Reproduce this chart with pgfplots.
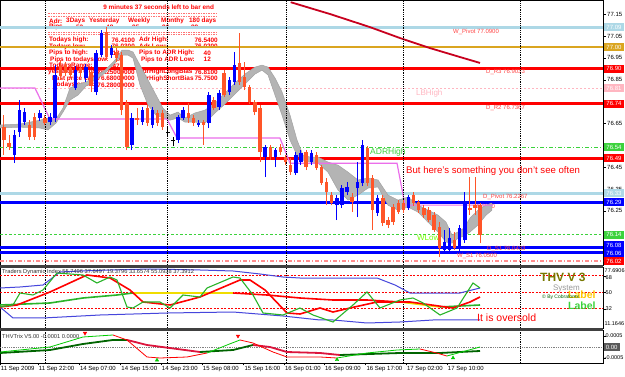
\documentclass[border=0pt]{standalone}
\usepackage{fontspec}
\setmainfont{Liberation Sans}
\usepackage{pgfplots}
\usepackage{pgfplotstable}
\pgfplotsset{compat=1.18}

\definecolor{bull}{RGB}{0,0,255}
\definecolor{bear}{RGB}{255,85,40}
\definecolor{lblue}{RGB}{173,216,230}
\definecolor{gold}{RGB}{218,165,32}
\definecolor{lpink}{RGB}{255,182,193}
\definecolor{lgreen}{RGB}{60,210,60}
\definecolor{violetl}{RGB}{235,110,235}
\definecolor{bandc}{RGB}{180,180,180}
\definecolor{dred}{RGB}{200,0,30}
\definecolor{olivet}{RGB}{120,120,0}
\definecolor{tdiblue}{RGB}{70,70,220}
\definecolor{tdigreen}{RGB}{40,180,40}
\definecolor{tdiyellow}{RGB}{240,220,0}
\definecolor{infored}{RGB}{255,0,0}
\definecolor{lvlred}{RGB}{255,70,70}
\definecolor{trixgreen}{RGB}{0,100,0}
\definecolor{trixred}{RGB}{220,20,60}
\definecolor{labgold}{RGB}{255,200,0}

% candles: k = bar index, l/h = low/high, bl/bh = body low/high
\pgfplotstableread{
k l h bl bh
2 76.468 76.620 76.505 76.597
3 76.588 76.757 76.610 76.711
4 76.643 76.721 76.656 76.702
7 76.661 76.711 76.675 76.698
9 76.643 76.698 76.656 76.679
10 76.656 76.917 76.675 76.872
14 76.803 76.913 76.812 76.894
16 76.839 76.922 76.858 76.908
18 76.780 76.986 76.794 76.972
19 76.954 77.078 76.963 77.064
21 76.949 77.009 76.963 76.995
25 76.528 76.698 76.551 76.675
27 76.643 76.725 76.656 76.711
29 76.629 76.725 76.643 76.711
34 76.560 76.688 76.574 76.679
35 76.665 76.725 76.675 76.711
38 76.633 76.665 76.643 76.652
40 76.629 76.794 76.652 76.780
42 76.711 76.803 76.725 76.789
44 76.780 76.862 76.794 76.849
45 76.826 76.977 76.839 76.917
51 76.404 76.551 76.496 76.542
53 76.450 76.537 76.496 76.528
57 76.414 76.519 76.423 76.505
58 76.459 76.528 76.473 76.514
60 76.459 76.528 76.473 76.514
65 76.207 76.322 76.276 76.308
66 76.262 76.368 76.276 76.354
67 76.322 76.381 76.336 76.359
69 76.221 76.473 76.354 76.381
70 76.363 76.574 76.377 76.551
73 76.226 76.322 76.240 76.308
79 76.253 76.322 76.262 76.313
86 76.061 76.162 76.070 76.107
87 76.056 76.171 76.070 76.125
89 76.061 76.185 76.079 76.171
90 76.102 76.336 76.116 76.290
}\bulltab

\pgfplotstableread{
k l h bl bh
0 76.505 76.688 76.574 76.633
1 76.528 76.597 76.542 76.560
5 76.574 76.665 76.588 76.643
6 76.574 76.698 76.588 76.679
8 76.643 76.688 76.652 76.675
11 76.849 76.940 76.867 76.913
12 76.867 76.931 76.881 76.917
13 76.858 76.922 76.872 76.904
15 76.862 76.917 76.881 76.904
17 76.794 76.894 76.821 76.885
20 76.940 77.091 76.954 77.068
22 76.931 76.995 76.949 76.977
23 76.688 76.977 76.711 76.963
24 76.528 76.757 76.542 76.743
26 76.643 76.721 76.665 76.675
28 76.638 76.734 76.652 76.721
30 76.638 76.711 76.652 76.698
31 76.620 76.711 76.633 76.698
36 76.652 76.743 76.675 76.698
37 76.638 76.688 76.652 76.675
39 76.551 76.665 76.643 76.656
41 76.711 76.771 76.721 76.757
43 76.771 76.894 76.780 76.881
46 76.826 77.064 76.839 76.927
47 76.803 76.931 76.817 76.862
48 76.739 76.826 76.748 76.817
49 76.688 76.757 76.702 76.748
50 76.473 76.734 76.519 76.721
52 76.482 76.551 76.496 76.542
54 76.505 76.556 76.519 76.542
55 76.459 76.505 76.473 76.496
56 76.414 76.491 76.427 76.459
59 76.436 76.528 76.450 76.519
61 76.436 76.519 76.446 76.505
62 76.368 76.459 76.377 76.450
63 76.276 76.400 76.336 76.381
64 76.276 76.336 76.285 76.322
68 76.244 76.331 76.290 76.313
71 76.363 76.546 76.377 76.537
72 76.162 76.414 76.253 76.400
74 76.180 76.322 76.194 76.308
75 76.171 76.221 76.185 76.207
76 76.185 76.281 76.198 76.267
77 76.235 76.299 76.244 76.285
78 76.240 76.299 76.253 76.285
80 76.272 76.336 76.285 76.322
81 76.240 76.299 76.253 76.290
82 76.217 76.276 76.230 76.262
83 76.198 76.267 76.207 76.253
84 76.153 76.244 76.162 76.230
85 76.038 76.198 76.079 76.175
88 76.070 76.153 76.079 76.116
91 76.230 76.404 76.253 76.262
92 76.230 76.404 76.262 76.276
93 76.102 76.285 76.139 76.276
}\beartab

\pgfplotstableread{
k l h bl bh
32 76.588 76.629 76.606 76.610
33 76.546 76.588 76.572 76.576
}\dojitab

\pgfplotsset{
  mt/.style={scale only axis, width=603pt, xmin=-0.78, xmax=116.99,
    axis line style={black, line width=0.5pt}, xtick=\empty, tick align=outside,
    ytick pos=right, major tick length=2.5pt, tick style={black, line width=0.5pt},
    scaled y ticks=false, scaled x ticks=false,
    /pgf/number format/assume math mode=true},
}
\tikzset{
  info/.style={font=\fontsize{6.4}{7}\selectfont\bfseries, text=infored, inner sep=0pt},
  lvl/.style={font=\fontsize{6}{7}\selectfont, text=lvlred, inner sep=0pt, anchor=west},
  lab/.style={anchor=west, inner sep=0pt, minimum width=20.5pt, minimum height=8pt,
    text=white, font=\fontsize{6}{7}\selectfont},
  plab/.style={anchor=west, inner sep=0pt, font=\fontsize{5.5}{6}\selectfont},
}

\begin{document}
\begin{tikzpicture}
\fill[white] (0pt,0pt) rectangle (625pt,-377pt);

% ================= MAIN PRICE PANEL =================
\begin{axis}[mt, at={(0pt,0pt)}, anchor=north west, height=265pt,
  ymin=76.0018, ymax=77.2152,
  ytick={76.25,76.35,76.45,76.65,76.85,76.95,77.05,77.15},
  yticklabel pos=right,
  yticklabel style={font=\fontsize{6}{7}\selectfont, inner sep=0pt, xshift=1.5pt,
    /pgf/number format/.cd, fixed, fixed zerofill, precision=2},
]
% --- info block (behind the candles)
\node[info, anchor=west] at (rel axis cs:0.1710,0.9717) {9 minutes 37 seconds left to bar end};
\draw[infored!55, line width=0.7pt, dash pattern=on 1.5pt off 1pt] (rel axis cs:0.0796,0.9491) -- (rel axis cs:0.3615,0.9491);
\draw[infored!55, line width=0.7pt, dash pattern=on 1.5pt off 1pt] (rel axis cs:0.0796,0.9396) -- (rel axis cs:0.3615,0.9396);
\node[info, anchor=west] at (rel axis cs:0.0813,0.9208) {Adr:};
\node[info, anchor=west] at (rel axis cs:0.1095,0.9208) {3Days};
\node[info, anchor=west] at (rel axis cs:0.1476,0.9208) {Yesterday};
\node[info, anchor=west] at (rel axis cs:0.2123,0.9208) {Weekly};
\node[info, anchor=west] at (rel axis cs:0.2670,0.9208) {Monthy};
\node[info, anchor=west] at (rel axis cs:0.3134,0.9208) {180 days};
\node[info, anchor=west] at (rel axis cs:0.0813,0.8981) {Pips};
\node[info, anchor=west] at (rel axis cs:0.1260,0.8981) {53};
\node[info, anchor=west] at (rel axis cs:0.1758,0.8981) {48};
\node[info, anchor=west] at (rel axis cs:0.2189,0.8981) {85};
\node[info, anchor=west] at (rel axis cs:0.2687,0.8981) {86};
\node[info, anchor=west] at (rel axis cs:0.3167,0.8981) {88};
\draw[infored!55, line width=0.7pt, dash pattern=on 1.5pt off 1pt] (rel axis cs:0.0796,0.8792) -- (rel axis cs:0.3615,0.8792);
\draw[infored!55, line width=0.7pt, dash pattern=on 1.5pt off 1pt] (rel axis cs:0.0796,0.8698) -- (rel axis cs:0.3615,0.8698);
\node[info, anchor=west] at (rel axis cs:0.0813,0.8491) {Todays high:};
\node[info, anchor=east] at (rel axis cs:0.2239,0.8491) {76.4100};
\node[info, anchor=west] at (rel axis cs:0.2305,0.8491) {Adr High:};
\node[info, anchor=east] at (rel axis cs:0.3615,0.8491) {76.5400};
\node[info, anchor=west] at (rel axis cs:0.0813,0.8245) {Todays low:};
\node[info, anchor=east] at (rel axis cs:0.2239,0.8245) {76.0300};
\node[info, anchor=west] at (rel axis cs:0.2305,0.8245) {Adr Low:};
\node[info, anchor=east] at (rel axis cs:0.3615,0.8245) {76.0200};
\node[info, anchor=west] at (rel axis cs:0.0813,0.8000) {Pips to high:};
\node[info, anchor=east] at (rel axis cs:0.1990,0.8000) {13};
\node[info, anchor=west] at (rel axis cs:0.2305,0.8000) {Pips to ADR High:};
\node[info, anchor=east] at (rel axis cs:0.3500,0.8000) {40};
\node[info, anchor=west] at (rel axis cs:0.0830,0.7755) {Pips to todays low:};
\node[info, anchor=east] at (rel axis cs:0.2040,0.7755) {10};
\node[info, anchor=west] at (rel axis cs:0.2338,0.7755) {Pips to ADR Low:};
\node[info, anchor=east] at (rel axis cs:0.3500,0.7755) {12};
\node[info, anchor=west] at (rel axis cs:0.0813,0.7509) {TodaysRange:};
\node[info, anchor=east] at (rel axis cs:0.1990,0.7509) {47};
\node[info, anchor=west] at (rel axis cs:0.0796,0.7283) {yesterdays close:};
\node[info, anchor=east] at (rel axis cs:0.2239,0.7283) {76.25000000};
\node[info, anchor=west] at (rel axis cs:0.2305,0.7283) {adrHighLongBias};
\node[info, anchor=east] at (rel axis cs:0.3615,0.7283) {76.8100};
\node[info, anchor=west] at (rel axis cs:0.0860,0.7038) {Last price call:};
\node[info, anchor=east] at (rel axis cs:0.2239,0.7038) {76.68000000};
\node[info, anchor=west] at (rel axis cs:0.2305,0.7038) {adrHighShortBias};
\node[info, anchor=east] at (rel axis cs:0.3615,0.7038) {75.7500};
\node[info, anchor=west] at (rel axis cs:0.0880,0.6792) {Todays open:};
\node[info, anchor=east] at (rel axis cs:0.2239,0.6792) {76.28000000};

% --- horizontal levels
\addplot[lblue, line width=3pt, forget plot] coordinates {(-0.78,77.09) (116.99,77.09)};
\addplot[gold, line width=2pt, forget plot] coordinates {(-0.78,77.00) (116.99,77.00)};
\addplot[red, line width=3pt, forget plot] coordinates {(-0.78,76.90) (116.99,76.90)};
\addplot[lpink, line width=0.8pt, dash pattern=on 2pt off 2pt, forget plot] coordinates {(-0.78,76.81) (116.99,76.81)};
\addplot[red, line width=3pt, forget plot] coordinates {(-0.78,76.74) (116.99,76.74)};
\addplot[lgreen, line width=0.8pt, dash pattern=on 4pt off 2pt on 1pt off 2pt, forget plot] coordinates {(-0.78,76.54) (116.99,76.54)};
\addplot[red, line width=3pt, forget plot] coordinates {(-0.78,76.49) (116.99,76.49)};
\addplot[lblue, line width=3pt, forget plot] coordinates {(-0.78,76.33) (116.99,76.33)};
\addplot[bull, line width=3pt, forget plot] coordinates {(-0.78,76.29) (116.99,76.29)};
\addplot[lgreen, line width=0.8pt, dash pattern=on 2.5pt off 2pt, forget plot] coordinates {(-0.78,76.14) (116.99,76.14)};
\addplot[bull, line width=3pt, forget plot] coordinates {(-0.78,76.08) (116.99,76.08)};
\addplot[bull, line width=3pt, forget plot] coordinates {(-0.78,76.06) (116.99,76.06)};
\addplot[red!45, line width=1.8pt, dash pattern=on 4pt off 2pt on 1pt off 2pt, forget plot] coordinates {(-0.78,76.02) (116.99,76.02)};

% --- level labels
\node[lvl] at (rel axis cs:0.7512,0.8804) {W\_Pivot 77.0900};
\node[lvl] at (rel axis cs:0.8060,0.7294) {D\_R3 76.9033};
\node[lvl, text=lpink, font=\fontsize{8}{9}\selectfont] at (rel axis cs:0.6899,0.6479) {LBHigh};
\node[lvl] at (rel axis cs:0.8060,0.5913) {D\_R2 76.7367};
\node[lvl, text=lgreen, font=\fontsize{8.5}{9}\selectfont] at (rel axis cs:0.6136,0.4253) {ADRHigh};
\node[lvl] at (rel axis cs:0.8010,0.2555) {D\_Pivot 76.2267};
\node[lvl, text=green!55!yellow, font=\fontsize{8}{9}\selectfont] at (rel axis cs:0.6915,0.1008) {WLow};
\node[lvl] at (rel axis cs:0.8076,0.0604) {D\_S1 76.0433};
\node[lvl] at (rel axis cs:0.7579,0.0358) {W\_S1 76.0500};
\node[lvl] at (rel axis cs:0.7844,0.2226) {76.2800};

% --- grey cloud (upper edge left to right, then lower edge right to left)
\addplot[fill=bandc, draw=bandc!90!black, line width=0.5pt, forget plot] coordinates {
(-0.78,76.643) (3.13,76.647) (7.03,76.665) (8.59,76.675) (10.16,76.670) (11.52,76.720) (12.89,76.812) (14.45,76.830) (16.02,76.839) (17.77,76.867) (19.73,76.894) (21.68,76.940) (23.05,76.986) (24.22,76.986) (25.2,76.977) (26.56,76.917) (28.13,76.849) (29.69,76.780) (31.05,76.720) (32.42,76.688) (33.98,76.702) (35.35,76.675) (37.3,76.698) (39.26,76.711) (41.21,76.743) (43.16,76.789) (45.12,76.835) (47.07,76.876) (49.02,76.908) (50.39,76.917) (51.56,76.908) (52.93,76.858) (54.3,76.794) (55.86,76.688) (57.23,76.574) (58.4,76.505) (59.77,76.496) (61.33,76.496) (63.28,76.473) (65.23,76.459) (67.19,76.427) (69.14,76.391) (71.09,76.400) (73.05,76.391) (75,76.322) (76.95,76.299) (78.91,76.313) (80.86,76.276) (82.81,76.253) (84.77,76.230) (86.33,76.198) (87.5,76.139) (88.67,76.153) (89.84,76.171) (91.02,76.217) (92.58,76.253) (94.14,76.276) (95.31,76.285)
(95.31,76.253) (94.14,76.230) (92.58,76.185) (91.02,76.153) (89.84,76.134) (88.67,76.125) (87.5,76.102) (86.33,76.107) (84.77,76.153) (82.81,76.198) (80.86,76.244) (78.91,76.267) (76.95,76.253) (75,76.276) (73.05,76.359) (71.09,76.354) (69.14,76.322) (67.19,76.299) (65.23,76.345) (63.28,76.427) (61.33,76.468) (59.77,76.473) (58.4,76.482) (57.23,76.505) (55.86,76.574) (54.3,76.688) (52.93,76.780) (51.56,76.872) (50.39,76.894) (49.02,76.876) (47.07,76.830) (45.12,76.785) (43.16,76.739) (41.21,76.698) (39.26,76.652) (37.3,76.656) (35.35,76.656) (33.98,76.675) (32.42,76.665) (31.05,76.675) (29.69,76.688) (28.13,76.734) (26.56,76.826) (25.2,76.949) (24.22,76.963) (23.05,76.963) (21.68,76.927) (19.73,76.881) (17.77,76.849) (16.02,76.821) (14.45,76.780) (12.89,76.757) (11.52,76.702) (10.16,76.652) (8.59,76.620) (7.03,76.629) (3.13,76.633) (-0.78,76.629)};

% --- violet step line
\addplot[violetl, line width=1.2pt, forget plot] coordinates {
(-0.78,76.812) (6.05,76.812) (8.98,76.670) (31.84,76.670) (33.8,76.583) (53.9,76.583) (55.86,76.468) (76.76,76.468) (78.32,76.276) (95.5,76.276)};

% --- dark red falling line
\addplot[dred, line width=1.8pt, forget plot] coordinates {
(56.0,77.205) (63.67,77.151) (71.48,77.091) (77.34,77.041) (83.2,76.995) (89.06,76.954) (92.97,76.927)};

% --- day separators
\addplot[black, densely dotted, line width=0.8pt, forget plot] coordinates {(8.0,76.0018) (8.0,77.2152)};
\addplot[black, densely dotted, line width=0.8pt, forget plot] coordinates {(31.84,76.0018) (31.84,77.2152)};
\addplot[black, densely dotted, line width=0.8pt, forget plot] coordinates {(55.08,76.0018) (55.08,77.2152)};
\addplot[black, densely dotted, line width=0.8pt, forget plot] coordinates {(77.93,76.0018) (77.93,77.2152)};
\addplot[black, densely dotted, line width=0.8pt, forget plot] coordinates {(100.8,76.0018) (100.8,77.2152)};

% --- candles: wicks then bodies
\addplot[draw=none, mark=none, forget plot, error bars/.cd, y dir=plus, y explicit, error mark=none,
  error bar style={draw=bull, line width=1pt}] table[x=k, y=l, y error expr=\thisrow{h}-\thisrow{l}] {\bulltab};
\addplot[draw=none, mark=none, forget plot, error bars/.cd, y dir=plus, y explicit, error mark=none,
  error bar style={draw=bull, line width=3.4pt}] table[x=k, y=bl, y error expr=\thisrow{bh}-\thisrow{bl}] {\bulltab};
\addplot[draw=none, mark=none, forget plot, error bars/.cd, y dir=plus, y explicit, error mark=none,
  error bar style={draw=bear, line width=1pt}] table[x=k, y=l, y error expr=\thisrow{h}-\thisrow{l}] {\beartab};
\addplot[draw=none, mark=none, forget plot, error bars/.cd, y dir=plus, y explicit, error mark=none,
  error bar style={draw=bear, line width=3.4pt}] table[x=k, y=bl, y error expr=\thisrow{bh}-\thisrow{bl}] {\beartab};
\addplot[draw=none, mark=none, forget plot, error bars/.cd, y dir=plus, y explicit, error mark=none,
  error bar style={draw=black, line width=0.8pt}] table[x=k, y=l, y error expr=\thisrow{h}-\thisrow{l}] {\dojitab};
\addplot[draw=none, mark=none, forget plot, error bars/.cd, y dir=plus, y explicit, error mark=none,
  error bar style={draw=black, line width=3.4pt}] table[x=k, y=bl, y error expr=\thisrow{bh}-\thisrow{bl}] {\dojitab};

\node[anchor=west, inner sep=0pt, text=infored, font=\fontsize{9.6}{11}\selectfont] at (rel axis cs:0.6733,0.3558) {But here's something you don't see often};

% coordinates for the price boxes
\coordinate (r1) at (axis cs:116.99,77.09);
\coordinate (r2) at (axis cs:116.99,77.00);
\coordinate (r3) at (axis cs:116.99,76.90);
\coordinate (r4) at (axis cs:116.99,76.81);
\coordinate (r5) at (axis cs:116.99,76.74);
\coordinate (r6) at (axis cs:116.99,76.54);
\coordinate (r7) at (axis cs:116.99,76.49);
\coordinate (r8) at (axis cs:116.99,76.33);
\coordinate (r9) at (axis cs:116.99,76.29);
\coordinate (r10) at (axis cs:116.99,76.14);
\coordinate (r11) at (axis cs:116.99,76.08);
\coordinate (r12) at (axis cs:116.99,76.06);
\coordinate (r13) at (axis cs:116.99,76.02);
\end{axis}

% ================= TDI PANEL =================
\begin{axis}[mt, at={(0pt,-267pt)}, anchor=north west, height=61pt,
  ymin=11.1646, ymax=77.6906, ytick={32,50,68}, yticklabels={}]
\addplot[red, line width=0.8pt, dash pattern=on 2pt off 1.5pt, forget plot] coordinates {(-0.78,68) (116.99,68)};
\addplot[red, line width=0.8pt, dash pattern=on 2pt off 1.5pt, forget plot] coordinates {(-0.78,50) (116.99,50)};
\addplot[red, line width=0.8pt, dash pattern=on 2pt off 1.5pt, forget plot] coordinates {(-0.78,32) (116.99,32)};
\addplot[black, densely dotted, line width=0.8pt, forget plot] coordinates {(8.0,11.1646) (8.0,77.6906)};
\addplot[black, densely dotted, line width=0.8pt, forget plot] coordinates {(31.84,11.1646) (31.84,77.6906)};
\addplot[black, densely dotted, line width=0.8pt, forget plot] coordinates {(55.08,11.1646) (55.08,77.6906)};
\addplot[black, densely dotted, line width=0.8pt, forget plot] coordinates {(77.93,11.1646) (77.93,77.6906)};
\addplot[black, densely dotted, line width=0.8pt, forget plot] coordinates {(100.8,11.1646) (100.8,77.6906)};
% volatility bands
\addplot[tdiblue, line width=1pt, forget plot] coordinates {
(-0.78,54.79) (3.13,55.88) (7.62,58.06) (10.94,72.24) (14.84,73.33) (20.7,74.42) (28.52,75.51) (38.28,74.42) (44.73,73.33) (50.0,70.06) (54.49,66.78) (57.81,65.69) (72.85,65.69) (76.37,58.06) (79.3,49.33) (89.06,49.33) (92.97,54.79)};
\addplot[tdiblue, line width=1pt, forget plot] coordinates {
(-0.78,34.07) (1.76,22.07) (7.62,22.07) (18.75,25.34) (31.84,27.52) (44.73,28.61) (54.49,24.25) (61.72,19.89) (64.26,19.89) (70.9,16.62) (77.34,17.71) (83.79,19.89) (92.97,19.89)};
% market base line (coloured by state)
\addplot[tdigreen, line width=1.6pt, forget plot] coordinates {(-0.78,36.25) (8.98,38.43) (15.43,43.88) (22.07,47.15) (25.2,49.33)};
\addplot[tdiyellow, line width=1.6pt, forget plot] coordinates {(25.2,49.33) (44.73,49.33)};
\addplot[red, line width=1.6pt, forget plot] coordinates {(44.73,49.33) (51.37,47.15) (57.81,43.88) (64.26,41.70) (70.9,41.70) (77.34,39.52)};
\addplot[tdiyellow, line width=1.6pt, forget plot] coordinates {(77.34,39.52) (85.16,34.07)};
\addplot[tdigreen, line width=1.6pt, forget plot] coordinates {(85.16,34.07) (92.97,36.25)};
% trade signal line
\addplot[red, line width=1.6pt, forget plot] coordinates {
(-0.78,34.07) (2.54,36.25) (8.98,50.42) (16.21,68.97) (20.7,65.69) (24.61,52.61) (27.15,39.52) (32.42,36.25) (38.28,44.97) (46.09,63.51) (48.05,63.51) (50.98,52.61) (55.27,27.52) (57.81,26.43) (61.72,32.98) (64.26,28.61) (67.58,32.98) (72.85,39.52) (79.3,39.52) (87.7,32.98) (91.02,39.52) (92.97,44.97)};
% RSI price line
\addplot[tdigreen, line width=1.1pt, forget plot] coordinates {
(-0.78,34.07) (1.76,36.25) (3.13,49.33) (5.66,47.15) (7.62,52.61) (10.35,71.15) (15.43,68.97) (18.16,60.24) (20.7,66.78) (22.07,63.51) (24.02,34.07) (25.2,32.98) (27.15,39.52) (30.47,39.52) (32.42,32.98) (34.96,47.15) (38.28,44.97) (39.65,54.79) (44.73,66.78) (46.09,65.69) (48.63,47.15) (50.59,27.52) (54.49,25.34) (57.81,32.98) (60.35,25.34) (64.26,17.71) (68.16,36.25) (70.9,50.42) (73.44,32.98) (77.34,41.70) (79.88,43.88) (81.84,38.43) (85.16,25.34) (88.48,32.98) (91.6,60.24) (92.97,54.79)};
\node[anchor=west, inner sep=0pt, font=\fontsize{5.7}{6}\selectfont, text=black!80] at (rel axis cs:0.0033,0.9098) {Traders Dynamic Index 55.7496 37.6497 19.3796 33.6574 55.0938 37.3912};
\node[anchor=west, inner sep=0pt, font=\fontsize{12}{13}\selectfont\bfseries, text=olivet] at (rel axis cs:0.8955,0.836) {THV V 3};
\node[anchor=west, inner sep=0pt, font=\fontsize{8}{9}\selectfont, text=black!40] at (rel axis cs:0.917,0.6475) {System};
\node[anchor=west, inner sep=0pt, font=\fontsize{10.5}{11}\selectfont\bfseries, text=labgold] at (rel axis cs:0.942,0.549) {Label};
\node[anchor=west, inner sep=0pt, font=\fontsize{5}{6}\selectfont, text=trixgreen] at (rel axis cs:0.8988,0.5) {© By Cobraforex};
\node[anchor=west, inner sep=0pt, font=\fontsize{10.5}{11}\selectfont\bfseries, text=lgreen] at (rel axis cs:0.942,0.361) {Label};
\node[anchor=west, inner sep=0pt, font=\fontsize{10.5}{12}\selectfont, text=infored] at (rel axis cs:0.791,0.164) {It is oversold};
\end{axis}

% ================= THVTrix PANEL =================
\begin{axis}[mt, at={(0pt,-330pt)}, anchor=north west, height=33pt,
  ymin=-0.000728, ymax=0.000773, ytick={-0.0005,0,0.0005}, yticklabels={},
  xtick={-0.78,6.64,14.65,22.75,30.66,38.67,46.78,54.69,62.5,70.61,78.52,86.52},
  xticklabels={11 Sep 2009,11 Sep 22:00,14 Sep 07:00,14 Sep 15:00,14 Sep 23:00,15 Sep 08:00,15 Sep 16:00,16 Sep 01:00,16 Sep 09:00,16 Sep 17:00,17 Sep 02:00,17 Sep 10:00},
  xtick pos=bottom,
  xticklabel style={anchor=north west, inner sep=0pt, xshift=0.8pt, yshift=-0.5pt, font=\fontsize{6}{7}\selectfont},
]
\addplot[black!50, densely dotted, line width=0.8pt, forget plot] coordinates {(-0.78,0) (116.99,0)};
\addplot[black, densely dotted, line width=0.8pt, forget plot] coordinates {(8.0,-0.000728) (8.0,0.000773)};
\addplot[black, densely dotted, line width=0.8pt, forget plot] coordinates {(31.84,-0.000728) (31.84,0.000773)};
\addplot[black, densely dotted, line width=0.8pt, forget plot] coordinates {(55.08,-0.000728) (55.08,0.000773)};
\addplot[black, densely dotted, line width=0.8pt, forget plot] coordinates {(77.93,-0.000728) (77.93,0.000773)};
\addplot[black, densely dotted, line width=0.8pt, forget plot] coordinates {(100.8,-0.000728) (100.8,0.000773)};
% thick trix line
\addplot[trixgreen, line width=1.8pt, forget plot] coordinates {(-0.78,-0.000273) (8.98,-0.000137) (15.43,0.000137) (21.29,0.000319) (24.02,0.000319)};
\addplot[trixred, line width=1.8pt, forget plot] coordinates {(24.02,0.000319) (27.93,0.000091) (38.28,-0.000228)};
\addplot[trixgreen, line width=1.8pt, forget plot] coordinates {(38.28,-0.000228) (44.73,-0.000137) (48.63,0.000091)};
\addplot[trixred, line width=1.8pt, forget plot] coordinates {(48.63,0.000091) (51.95,0) (55.27,-0.000228) (61.72,-0.000273) (65.6,-0.000364)};
\addplot[trixgreen, line width=1.8pt, forget plot] coordinates {(65.6,-0.000364) (77.34,-0.000273) (85.16,-0.000273) (92.97,-0.000182)};
% thin signal line
\addplot[green!80!black, line width=0.8pt, forget plot] coordinates {(-0.78,-0.000228) (8.98,0) (15.43,0.000455) (21.29,0.000546)};
\addplot[red, line width=0.8pt, forget plot] coordinates {(21.29,0.000546) (24.02,0.000319) (27.93,-0.000455) (30.47,-0.000501) (35.74,-0.000455) (39.65,-0.000273)};
\addplot[green!80!black, line width=0.8pt, forget plot] coordinates {(39.65,-0.000273) (43.55,0.000091) (46.09,0.000319)};
\addplot[red, line width=0.8pt, forget plot] coordinates {(46.09,0.000319) (48.63,0.000182) (52.54,-0.000228) (55.27,-0.000455) (61.72,-0.000455) (65.04,-0.000501)};
\addplot[green!80!black, line width=0.8pt, forget plot] coordinates {(65.04,-0.000501) (70.9,-0.000273) (76.76,-0.000137) (81.25,-0.000091)};
\addplot[red, line width=0.8pt, forget plot] coordinates {(81.25,-0.000091) (84.5,-0.000273) (86.5,-0.000410)};
\addplot[green!80!black, line width=0.8pt, forget plot] coordinates {(86.5,-0.000410) (92.97,0)};
% signal arrows
\addplot[only marks, red, mark=triangle*, mark size=2pt, mark options={rotate=180}, forget plot] coordinates {(15.82,0.00063) (45.7,0.00050)};
\addplot[only marks, green!80!black, mark=triangle*, mark size=2pt, forget plot] coordinates {(29.88,-0.00060) (65.04,-0.00058) (87.7,-0.00050)};
\node[anchor=west, inner sep=0pt, font=\fontsize{5.7}{6}\selectfont, text=black!80] at (rel axis cs:0.0033,0.818) {THVTrix V5.00 -0.0001 0.0000};
\end{axis}

% ================= frame decorations =================
\draw[black!75, line width=2.5pt] (0pt,-266.3pt) -- (603pt,-266.3pt);
\draw[black!75, line width=2.5pt] (0pt,-329.3pt) -- (603pt,-329.3pt);

% price boxes on the right scale
\node[lab, fill=lblue] at ([xshift=0.5pt]r1) {77.09};
\node[lab, fill=gold] at ([xshift=0.5pt]r2) {77.00};
\node[lab, fill=red] at ([xshift=0.5pt]r3) {76.90};
\node[lab, fill=lpink] at ([xshift=0.5pt]r4) {76.81};
\node[lab, fill=red] at ([xshift=0.5pt]r5) {76.74};
\node[lab, fill=lgreen] at ([xshift=0.5pt]r6) {76.54};
\node[lab, fill=red] at ([xshift=0.5pt]r7) {76.49};
\node[lab, fill=lblue] at ([xshift=0.5pt]r8) {76.33};
\node[lab, fill=bull] at ([xshift=0.5pt]r9) {76.29};
\node[lab, fill=lgreen] at ([xshift=0.5pt]r10) {76.14};
\node[lab, fill=bull] at ([xshift=0.5pt,yshift=2.5pt]r11) {76.08};
\node[lab, fill=bull] at ([xshift=0.5pt,yshift=-0.8pt]r12) {76.06};
\node[lab, fill=red] at ([xshift=0.5pt]r13) {76.02};

% TDI and Trix scale labels
\node[plab] at (604.5pt,-270.5pt) {77.6906};
\node[plab] at (605.5pt,-277.5pt) {68};
\node[plab] at (605.5pt,-293pt) {50};
\node[plab] at (605.5pt,-309pt) {32};
\node[plab] at (604.5pt,-323.5pt) {11.1646};
\node[plab] at (605.5pt,-336pt) {0.0005};
\node[lab, fill=black!65, minimum width=16pt] at (603.5pt,-347pt) {0.00};
\node[plab] at (604.5pt,-358pt) {-0.0005};

\pgfresetboundingbox
\path[use as bounding box] (0pt,0pt) rectangle (625pt,-377pt);
\end{tikzpicture}
\end{document}
